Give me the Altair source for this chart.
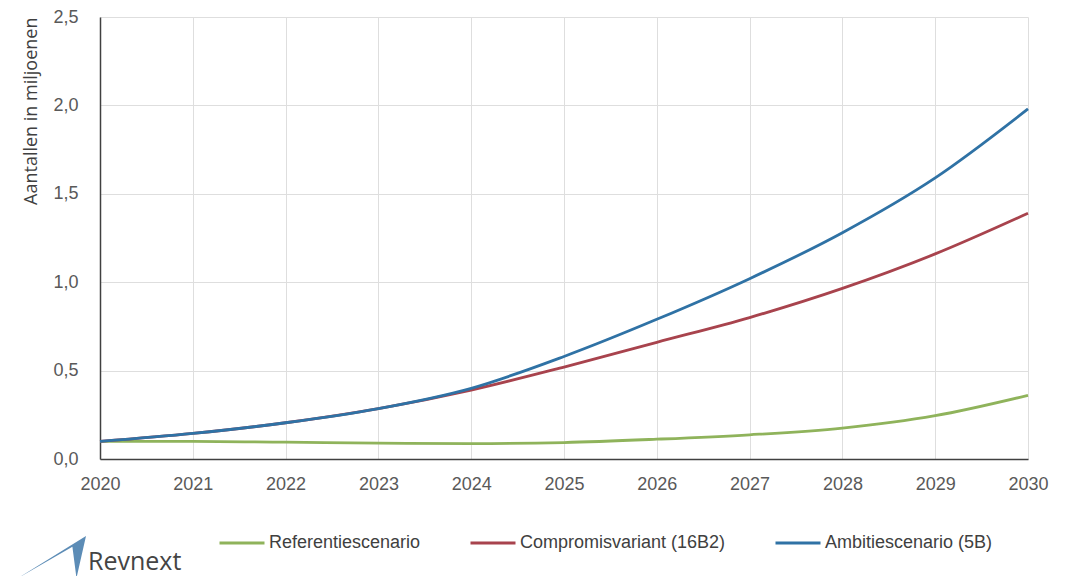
import altair as alt
import pandas as pd

years = [2020, 2021, 2022, 2023, 2024, 2025, 2026, 2027, 2028, 2029, 2030]
referentie = [0.10, 0.100, 0.095, 0.090, 0.087, 0.093, 0.112, 0.137, 0.175, 0.245, 0.36]
compromis = [0.10, 0.145, 0.205, 0.285, 0.39, 0.52, 0.66, 0.80, 0.965, 1.16, 1.39]
ambitie = [0.10, 0.145, 0.205, 0.285, 0.40, 0.58, 0.79, 1.02, 1.28, 1.59, 1.98]
y_ticks = [0, 0.5, 1.0, 1.5, 2.0, 2.5]

series_names = ["Referentiescenario", "Compromisvariant (16B2)", "Ambitiescenario (5B)"]
series_colors = ["#8fb35b", "#a8434d", "#2f72a5"]

rows = []
for name, vals in zip(series_names, [referentie, compromis, ambitie]):
    for y, v in zip(years, vals):
        rows.append({"Jaar": y, "Waarde": v, "Scenario": name})
df = pd.DataFrame(rows)

FONT = "Liberation Sans Narrow, Liberation Sans, sans-serif"

lines = alt.Chart(df).mark_line(strokeWidth=2.8, interpolate="monotone").encode(
    x=alt.X("Jaar:Q", scale=alt.Scale(domain=[2020, 2030], nice=False, zero=False),
            axis=alt.Axis(values=years, format="d", title=None, grid=True, gridColor="#dedede",
                          domainColor="#404040", domainWidth=1.5, ticks=False, labelFlush=False,
                          labelPadding=16, labelFontSize=18, labelColor="#595959", labelFont=FONT)),
    y=alt.Y("Waarde:Q", scale=alt.Scale(domain=[0, 2.5], nice=False),
            axis=alt.Axis(values=y_ticks, title="Aantallen in miljoenen",
                          labelExpr="replace(format(datum.value, '.1f'), '.', ',')",
                          grid=True, gridColor="#dedede", domainColor="#404040", domainWidth=1.5,
                          ticks=False, labelPadding=22, labelFontSize=18, labelColor="#595959",
                          labelFont=FONT, labelFlush=False,
                          titleFont="Open Sans", titleFontSize=18, titleFontWeight="normal",
                          titleColor="#404040",
                          titleAngle=270, titleAlign="right", titleBaseline="bottom",
                          titleX=-60, titleY=0)),
    color=alt.Color("Scenario:N", sort=series_names,
                    scale=alt.Scale(domain=series_names, range=series_colors),
                    legend=alt.Legend(title=None, orient="none", direction="horizontal",
                                      legendX=118, legendY=502, symbolType="stroke",
                                      symbolSize=2025, symbolStrokeWidth=2.8, labelOffset=3,
                                      columnPadding=43, labelFont=FONT, labelFontSize=18,
                                      labelLimit=0, labelColor="#404040"))
)

logo_text = alt.Chart(pd.DataFrame({"t": ["Revnext"]})).mark_text(
    font="Open Sans", fontSize=25, color="#444444", align="left", baseline="bottom"
).encode(x=alt.value(-12), y=alt.value(558), text="t:N")

logo_mark = alt.Chart(pd.DataFrame({"t": ["logo"]})).mark_point(
    shape="M-1,0.62 L1,-0.62 L0.72,0.62 L0.6,-0.3 Z",
    filled=True, color="#4a7fae", size=4624, opacity=0.9, strokeWidth=0
).encode(x=alt.value(-48), y=alt.value(540))

chart = alt.layer(lines, logo_text, logo_mark).properties(
    width=928, height=442,
    autosize=alt.AutoSizeParams(type="none"),
    padding={"left": 92, "top": 9, "right": 29, "bottom": 117},
    background="white"
).configure_view(stroke=None)

chart.save("out.html", embed_options={"renderer": "svg", "actions": False})
